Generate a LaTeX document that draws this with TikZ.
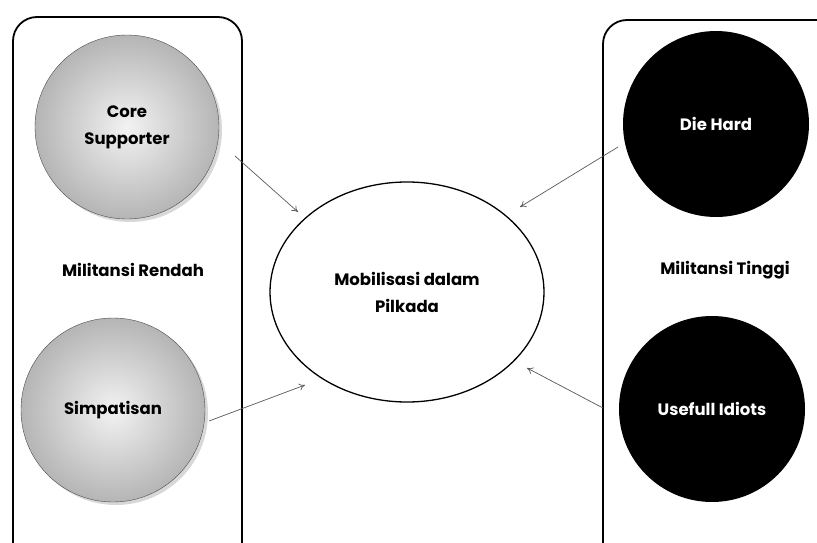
\documentclass[tikz,border=0pt]{standalone}
\usepackage{fontspec}
\setmainfont{Poppins}
\usetikzlibrary{shapes,shadows,arrows.meta}

\begin{document}
\begin{tikzpicture}[x=1pt, y=-1pt,
    txt/.style={font=\bfseries\fontsize{16.5}{27}\selectfont, align=center},
    group/.style={draw, line width=1.8pt, rounded corners=24pt},
    light/.style={circle, txt, draw=gray!60!black, thin, inner color=gray!10, outer color=gray!58, minimum size=184pt, drop shadow={opacity=0.3, shadow xshift=3pt, shadow yshift=-3pt}},
    dark/.style={circle, txt, fill=black, text=white, minimum size=186pt},
    link/.style={draw, gray!70!black, line width=0.7pt, -{To[length=6pt,width=7pt]}}]
    \useasboundingbox (0,0) rectangle (817,543);
    \fill [white] (0,0) rectangle (817,543);
    \clip (0,0) rectangle (817,543);
    % Group boxes
    \draw [group] (13,17) rectangle (242,570);
    \draw [group] (603,20) rectangle (850,570);
    % Place nodes
    \node [light] (core) at (127,127) {Core\\Supporter};
    \node [light] (simp) at (113,410) {Simpatisan};
    \node [dark] (die) at (716,124) {Die Hard};
    \node [dark] (usef) at (712,409) {Usefull Idiots};
    \node [ellipse, draw, line width=1.3pt, fill=white, txt, minimum width=274pt, minimum height=220pt] (mob) at (407,292) {Mobilisasi dalam\\Pilkada};
    \node [txt] (rendah) at (133,270) {Militansi Rendah};
    \node [txt] (tinggi) at (725,270) {Militansi Tinggi};
    % Arrow ends
    \coordinate (core-out) at (235,156);
    \coordinate (core-in) at (298,212);
    \coordinate (simp-out) at (209,421);
    \coordinate (simp-in) at (305,385);
    \coordinate (die-out) at (618,147);
    \coordinate (die-in) at (520,207);
    \coordinate (usef-out) at (603,408);
    \coordinate (usef-in) at (527,368);
    \path [link] (core-out) -- (core-in);
    \path [link] (simp-out) -- (simp-in);
    \path [link] (die-out) -- (die-in);
    \path [link] (usef-out) -- (usef-in);
\end{tikzpicture}
\end{document}
